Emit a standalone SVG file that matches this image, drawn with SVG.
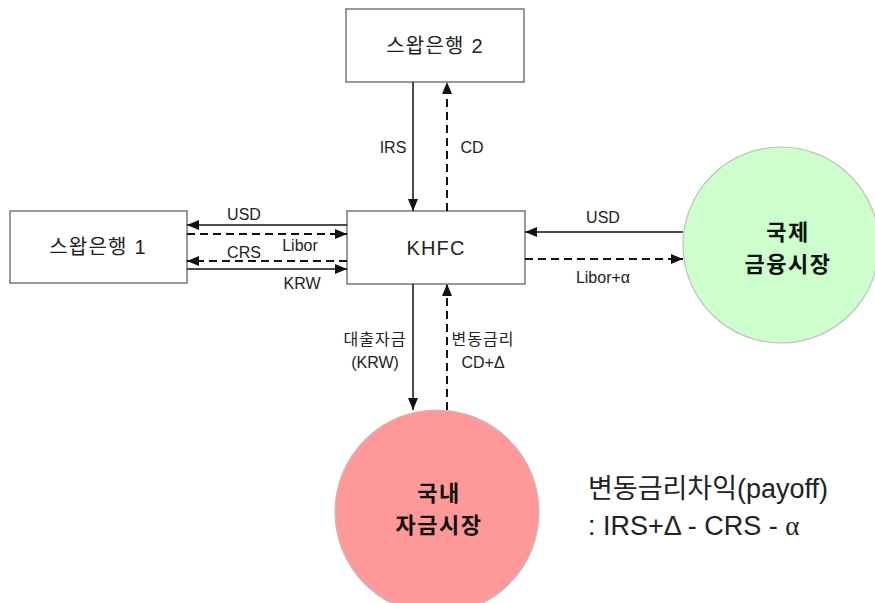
<svg xmlns="http://www.w3.org/2000/svg" width="875" height="603" viewBox="0 0 875 603">
<style>
.box{fill:#fff;stroke:#555;stroke-width:1.2}
.circ{stroke:#c0c0c0;stroke-width:1.2}
.t{font-family:"Liberation Sans","Noto Sans CJK KR",sans-serif;fill:#222}
.bl{font-size:20px;text-anchor:middle;letter-spacing:1.2px}
.lb{font-size:16px;text-anchor:middle}
.big{font-family:"Noto Sans CJK KR",sans-serif;font-size:22px;font-weight:bold;text-anchor:middle;fill:#111;letter-spacing:1.5px}
.s{stroke:#111;stroke-width:1.5;fill:none}
.d{stroke:#111;stroke-width:2;fill:none;stroke-dasharray:8,5}
</style>
<defs>
<marker id="ah" viewBox="0 0 12 10" refX="12" refY="5" markerWidth="12" markerHeight="10" markerUnits="userSpaceOnUse" orient="auto">
<path d="M0,0 L12,5 L0,10 z" fill="#111"/>
</marker>
</defs>
<rect width="875" height="603" fill="#fff"/>
<g id="bank2"><rect class="box" x="346" y="9" width="178" height="73"/><text class="t bl" x="435" y="53">스왑은행 2</text></g>
<g id="bank1"><rect class="box" x="10" y="211" width="177" height="72"/><text class="t bl" x="98" y="254">스왑은행 1</text></g>
<g id="khfc"><rect class="box" x="347" y="211" width="178" height="73"/><text class="t bl" x="436" y="255" letter-spacing="0">KHFC</text></g>
<g id="intl"><circle class="circ" cx="781" cy="245" r="98" fill="#ccffcc"/><text class="big" x="788" y="240">국제</text><text class="big" x="788" y="272">금융시장</text></g>
<g id="dom"><circle class="circ" cx="437" cy="512" r="102" fill="#ff9999"/><text class="big" x="439" y="501">국내</text><text class="big" x="439" y="533">자금시장</text></g>
<g id="connectors">
<line class="s" x1="413" y1="82" x2="413" y2="211" marker-end="url(#ah)"/>
<line class="d" x1="447" y1="211" x2="447" y2="82" marker-end="url(#ah)"/>
<line class="s" x1="347" y1="225" x2="187" y2="225" marker-end="url(#ah)"/>
<line class="d" x1="187" y1="234" x2="347" y2="234" marker-end="url(#ah)"/>
<line class="d" x1="347" y1="261" x2="187" y2="261" marker-end="url(#ah)"/>
<line class="s" x1="187" y1="269" x2="347" y2="269" marker-end="url(#ah)"/>
<line class="s" x1="683" y1="232" x2="525" y2="232" marker-end="url(#ah)"/>
<line class="d" x1="525" y1="259" x2="683" y2="259" marker-end="url(#ah)"/>
<line class="s" x1="413" y1="284" x2="413" y2="410" marker-end="url(#ah)"/>
<line class="d" x1="447" y1="410" x2="447" y2="284" marker-end="url(#ah)"/>
</g>
<g id="labels">
<text class="t lb" x="393" y="153">IRS</text>
<text class="t lb" x="472" y="153">CD</text>
<text class="t lb" x="244" y="220">USD</text>
<text class="t lb" x="300" y="251">Libor</text>
<text class="t lb" x="244" y="258">CRS</text>
<text class="t lb" x="302" y="289">KRW</text>
<text class="t lb" x="603" y="223">USD</text>
<text class="t lb" x="603" y="283">Libor+α</text>
<text class="t lb" x="375" y="345" letter-spacing="1">대출자금</text>
<text class="t lb" x="375" y="368">(KRW)</text>
<text class="t lb" x="483" y="345" letter-spacing="1">변동금리</text>
<text class="t lb" x="483" y="368">CD+Δ</text>
<text class="t" x="588" y="498" font-size="27" fill="#111">변동금리차익(payoff)</text>
<text class="t" x="588" y="535" font-size="27" fill="#111">:  IRS+Δ - CRS - <tspan font-family="Liberation Serif, serif">α</tspan></text>
</g>
</svg>
